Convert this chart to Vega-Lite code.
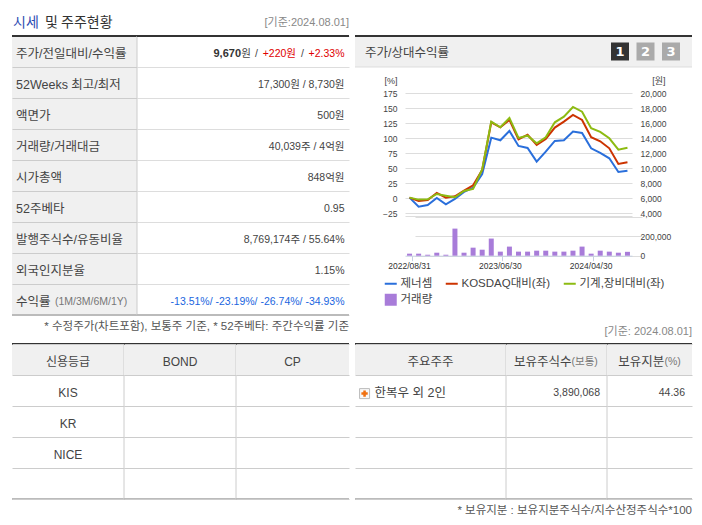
{
"$schema":"https://vega.github.io/schema/vega-lite/v6.json",
"background":"white",
"padding":{"left":11,"top":0,"right":0,"bottom":0},
"spacing":-1,
"config":{"view":{"stroke":null},"font":"Liberation Sans, Noto Sans CJK KR","text":{"font":"Liberation Sans, Noto Sans CJK KR","color":"#444","fontSize":10.5,"baseline":"middle"}},
"datasets":{
"lines":[
{"date":"2022/08/31","series":"제너셈","value":6089},{"date":"2022/09/30","series":"제너셈","value":4889},{"date":"2022/10/31","series":"제너셈","value":5111},{"date":"2022/11/30","series":"제너셈","value":6044},{"date":"2022/12/29","series":"제너셈","value":5200},{"date":"2023/01/31","series":"제너셈","value":5911},{"date":"2023/02/28","series":"제너셈","value":6844},{"date":"2023/03/31","series":"제너셈","value":7422},{"date":"2023/04/28","series":"제너셈","value":9244},{"date":"2023/05/31","series":"제너셈","value":14089},{"date":"2023/06/30","series":"제너셈","value":13733},{"date":"2023/07/31","series":"제너셈","value":14978},{"date":"2023/08/31","series":"제너셈","value":12978},{"date":"2023/09/27","series":"제너셈","value":12711},{"date":"2023/10/31","series":"제너셈","value":10889},{"date":"2023/11/30","series":"제너셈","value":12222},{"date":"2023/12/28","series":"제너셈","value":13644},{"date":"2024/01/31","series":"제너셈","value":13733},{"date":"2024/02/29","series":"제너셈","value":14889},{"date":"2024/03/29","series":"제너셈","value":14711},{"date":"2024/04/30","series":"제너셈","value":12667},{"date":"2024/05/31","series":"제너셈","value":12044},{"date":"2024/06/28","series":"제너셈","value":11333},{"date":"2024/07/31","series":"제너셈","value":9511},{"date":"2024/08/01","series":"제너셈","value":9670},
{"date":"2022/08/31","series":"KOSDAQ대비(좌)","value":1.1},{"date":"2022/09/30","series":"KOSDAQ대비(좌)","value":-4.4},{"date":"2022/10/31","series":"KOSDAQ대비(좌)","value":-2.8},{"date":"2022/11/30","series":"KOSDAQ대비(좌)","value":8.9},{"date":"2022/12/29","series":"KOSDAQ대비(좌)","value":1.1},{"date":"2023/01/31","series":"KOSDAQ대비(좌)","value":3.3},{"date":"2023/02/28","series":"KOSDAQ대비(좌)","value":12.8},{"date":"2023/03/31","series":"KOSDAQ대비(좌)","value":21.7},{"date":"2023/04/28","series":"KOSDAQ대비(좌)","value":47.2},{"date":"2023/05/31","series":"KOSDAQ대비(좌)","value":126.7},{"date":"2023/06/30","series":"KOSDAQ대비(좌)","value":118.3},{"date":"2023/07/31","series":"KOSDAQ대비(좌)","value":130.6},{"date":"2023/08/31","series":"KOSDAQ대비(좌)","value":98.3},{"date":"2023/09/27","series":"KOSDAQ대비(좌)","value":106.1},{"date":"2023/10/31","series":"KOSDAQ대비(좌)","value":88.9},{"date":"2023/11/30","series":"KOSDAQ대비(좌)","value":98.9},{"date":"2023/12/28","series":"KOSDAQ대비(좌)","value":117.8},{"date":"2024/01/31","series":"KOSDAQ대비(좌)","value":127.8},{"date":"2024/02/29","series":"KOSDAQ대비(좌)","value":138.9},{"date":"2024/03/29","series":"KOSDAQ대비(좌)","value":130.6},{"date":"2024/04/30","series":"KOSDAQ대비(좌)","value":101.7},{"date":"2024/05/31","series":"KOSDAQ대비(좌)","value":95},{"date":"2024/06/28","series":"KOSDAQ대비(좌)","value":83.3},{"date":"2024/07/31","series":"KOSDAQ대비(좌)","value":57.2},{"date":"2024/08/01","series":"KOSDAQ대비(좌)","value":60},
{"date":"2022/08/31","series":"기계,장비대비(좌)","value":1.1},{"date":"2022/09/30","series":"기계,장비대비(좌)","value":-2.2},{"date":"2022/10/31","series":"기계,장비대비(좌)","value":-1.7},{"date":"2022/11/30","series":"기계,장비대비(좌)","value":7.2},{"date":"2022/12/29","series":"기계,장비대비(좌)","value":4.4},{"date":"2023/01/31","series":"기계,장비대비(좌)","value":1.7},{"date":"2023/02/28","series":"기계,장비대비(좌)","value":12.2},{"date":"2023/03/31","series":"기계,장비대비(좌)","value":15.6},{"date":"2023/04/28","series":"기계,장비대비(좌)","value":48.3},{"date":"2023/05/31","series":"기계,장비대비(좌)","value":127.8},{"date":"2023/06/30","series":"기계,장비대비(좌)","value":118.3},{"date":"2023/07/31","series":"기계,장비대비(좌)","value":133.9},{"date":"2023/08/31","series":"기계,장비대비(좌)","value":100.6},{"date":"2023/09/27","series":"기계,장비대비(좌)","value":104.4},{"date":"2023/10/31","series":"기계,장비대비(좌)","value":91.7},{"date":"2023/11/30","series":"기계,장비대비(좌)","value":101.7},{"date":"2023/12/28","series":"기계,장비대비(좌)","value":126.7},{"date":"2024/01/31","series":"기계,장비대비(좌)","value":136.1},{"date":"2024/02/29","series":"기계,장비대비(좌)","value":152.2},{"date":"2024/03/29","series":"기계,장비대비(좌)","value":144.4},{"date":"2024/04/30","series":"기계,장비대비(좌)","value":116.7},{"date":"2024/05/31","series":"기계,장비대비(좌)","value":110.6},{"date":"2024/06/28","series":"기계,장비대비(좌)","value":100},{"date":"2024/07/31","series":"기계,장비대비(좌)","value":81.1},{"date":"2024/08/01","series":"기계,장비대비(좌)","value":84.4}
],
"volume":[
{"date":"2022/08/31","volume":21000},{"date":"2022/09/30","volume":21000},{"date":"2022/10/31","volume":10000},{"date":"2022/11/30","volume":31000},{"date":"2022/12/29","volume":10000},{"date":"2023/01/31","volume":280000},{"date":"2023/02/28","volume":31000},{"date":"2023/03/31","volume":83000},{"date":"2023/04/28","volume":62000},{"date":"2023/05/31","volume":177000},{"date":"2023/06/30","volume":42000},{"date":"2023/07/31","volume":94000},{"date":"2023/08/31","volume":42000},{"date":"2023/09/27","volume":42000},{"date":"2023/10/31","volume":52000},{"date":"2023/11/30","volume":52000},{"date":"2023/12/28","volume":42000},{"date":"2024/01/31","volume":42000},{"date":"2024/02/29","volume":52000},{"date":"2024/03/29","volume":94000},{"date":"2024/04/30","volume":21000},{"date":"2024/05/31","volume":52000},{"date":"2024/06/28","volume":42000},{"date":"2024/07/31","volume":31000},{"date":"2024/08/01","volume":40039}
],
"t1":[
{"항목":"주가/전일대비/수익률","값":""},{"항목":"52Weeks 최고/최저","값":"17,300원 / 8,730원"},{"항목":"액면가","값":"500원"},{"항목":"거래량/거래대금","값":"40,039주 / 4억원"},{"항목":"시가총액","값":"848억원"},{"항목":"52주베타","값":"0.95"},{"항목":"발행주식수/유동비율","값":"8,769,174주 / 55.64%"},{"항목":"외국인지분율","값":"1.15%"},{"항목":"수익률","값":""}
]
},
"vconcat":[
{"width":337,"height":36,"data":{"values":[{"t":"시세","u":"및 주주현황","v":"[기준:2024.08.01]"}]},"layer":[
 {"mark":{"type":"text","align":"left","dx":-167.5,"dy":5,"fontSize":14,"color":"#2d4cb3","font":"Noto Sans CJK KR"},"encoding":{"text":{"field":"t"}}},
 {"mark":{"type":"text","align":"left","dx":-135.5,"dy":5,"fontSize":14,"color":"#333","font":"Noto Sans CJK KR"},"encoding":{"text":{"field":"u"}}},
 {"mark":{"type":"text","align":"right","dx":168.5,"dy":5,"fontSize":11,"color":"#888"},"encoding":{"text":{"field":"v"}}}
]},
{"hconcat":[
 {"hconcat":[
  {"width":125,"height":279,"view":{"fill":"#f0f0f0","stroke":null},"layer":[
   {"data":{"name":"t1"},"mark":{"type":"text","align":"left","dx":-58.5,"dy":2.5,"fontSize":12.5,"color":"#444"},"encoding":{"y":{"field":"항목","type":"nominal","scale":{"type":"band","domain":["주가/전일대비/수익률","52Weeks 최고/최저","액면가","거래량/거래대금","시가총액","52주베타","발행주식수/유동비율","외국인지분율","수익률"],"paddingInner":0,"paddingOuter":0},"axis":{"grid":true,"tickBand":"extent","labels":false,"ticks":false,"domain":false,"title":null,"gridColor":"#ccc"}},"text":{"field":"항목"}}},
   {"data":{"values":[{"s":"(1M/3M/6M/1Y)","r":"수익률"}]},"mark":{"type":"text","align":"left","dx":-19.5,"dy":2.5,"fontSize":10.5,"color":"#777"},"encoding":{"y":{"field":"r","type":"nominal"},"text":{"field":"s"}}},
   {"data":{"values":[{}]},"mark":{"type":"rule","color":"#333","strokeWidth":2},"encoding":{"y":{"datum":"주가/전일대비/수익률","type":"nominal","bandPosition":0}}},
   {"data":{"values":[{}]},"mark":{"type":"rule","color":"#bbb","strokeWidth":2},"encoding":{"y":{"datum":"수익률","type":"nominal","bandPosition":1}}},
   {"data":{"values":[{}]},"mark":{"type":"rule","color":"#ccc"},"encoding":{"x":{"datum":"c","type":"nominal","bandPosition":1,"axis":null,"scale":{"type":"band","domain":["c"],"paddingInner":0,"paddingOuter":0}}}}
  ]},
  {"width":212,"height":279,"layer":[
   {"data":{"name":"t1"},"mark":{"type":"text","align":"right","dx":101.5,"dy":2.5,"color":"#444"},"encoding":{"y":{"field":"항목","type":"nominal","scale":{"type":"band","domain":["주가/전일대비/수익률","52Weeks 최고/최저","액면가","거래량/거래대금","시가총액","52주베타","발행주식수/유동비율","외국인지분율","수익률"],"paddingInner":0,"paddingOuter":0},"axis":{"grid":true,"tickBand":"extent","labels":false,"ticks":false,"domain":false,"title":null,"gridColor":"#ddd"}},"text":{"field":"값"}}},
   {"data":{"values":[{"r":"수익률","s":"-13.51%/ -23.19%/ -26.74%/ -34.93%"}]},"mark":{"type":"text","align":"right","dx":101.5,"dy":2.5,"color":"#1a66e0"},"encoding":{"y":{"field":"r","type":"nominal"},"text":{"field":"s"}}},
   {"data":{"values":[{"r":"주가/전일대비/수익률","s":"+2.33%"}]},"mark":{"type":"text","align":"right","dx":101.5,"dy":2.5,"color":"#e00000"},"encoding":{"y":{"field":"r","type":"nominal"},"text":{"field":"s"}}},
   {"data":{"values":[{"r":"주가/전일대비/수익률","s":"/"}]},"mark":{"type":"text","align":"right","dx":61,"dy":2.5},"encoding":{"y":{"field":"r","type":"nominal"},"text":{"field":"s"}}},
   {"data":{"values":[{"r":"주가/전일대비/수익률","s":"+220원"}]},"mark":{"type":"text","align":"right","dx":53,"dy":2.5,"color":"#e00000"},"encoding":{"y":{"field":"r","type":"nominal"},"text":{"field":"s"}}},
   {"data":{"values":[{"r":"주가/전일대비/수익률","s":"/"}]},"mark":{"type":"text","align":"right","dx":15,"dy":2.5},"encoding":{"y":{"field":"r","type":"nominal"},"text":{"field":"s"}}},
   {"data":{"values":[{"r":"주가/전일대비/수익률","s":"9,670"}]},"mark":{"type":"text","align":"right","dx":-2,"dy":2.5,"fontWeight":"bold","fontSize":11,"color":"#333"},"encoding":{"y":{"field":"r","type":"nominal"},"text":{"field":"s"}}},
   {"data":{"values":[{"r":"주가/전일대비/수익률","s":"원"}]},"mark":{"type":"text","align":"right","dx":8,"dy":2.5},"encoding":{"y":{"field":"r","type":"nominal"},"text":{"field":"s"}}},
   {"data":{"values":[{}]},"mark":{"type":"rule","color":"#333","strokeWidth":2},"encoding":{"y":{"datum":"주가/전일대비/수익률","type":"nominal","bandPosition":0}}},
   {"data":{"values":[{}]},"mark":{"type":"rule","color":"#bbb","strokeWidth":2},"encoding":{"y":{"datum":"수익률","type":"nominal","bandPosition":1}}}
  ]}
 ],"spacing":0,"bounds":"flush"},
 {"vconcat":[
  {"width":337,"height":31,"view":{"fill":"#f0f0f0","stroke":null},"layer":[
   {"data":{"values":[{}]},"mark":{"type":"rule","color":"#333","strokeWidth":2},"encoding":{"y":{"datum":"h","type":"nominal","bandPosition":0,"axis":null,"scale":{"type":"band","domain":["h"],"paddingInner":0,"paddingOuter":0}}}},
   {"data":{"values":[{}]},"mark":{"type":"rule","color":"#ddd"},"encoding":{"y":{"datum":"h","type":"nominal","bandPosition":1}}},
   {"data":{"values":[{"t":"주가/상대수익률"}]},"mark":{"type":"text","align":"left","dx":-158.5,"fontSize":12.5,"dy":1},"encoding":{"text":{"field":"t"}}},
   {"data":{"values":[{"b":"1"}]},"mark":{"type":"point","shape":"square","size":324,"filled":true,"opacity":1,"color":"#333"},"encoding":{"x":{"field":"b","type":"nominal","axis":null,"scale":{"type":"point","domain":["1","2","3"],"range":[265,316],"padding":0}}}},
   {"data":{"values":[{"b":"2"},{"b":"3"}]},"mark":{"type":"point","shape":"square","size":324,"filled":true,"opacity":1,"color":"#aaa"},"encoding":{"x":{"field":"b","type":"nominal"}}},
   {"data":{"values":[{"b":"1"},{"b":"2"},{"b":"3"}]},"mark":{"type":"text","fontWeight":"bold","fontSize":13,"color":"white","font":"DejaVu Sans"},"encoding":{"x":{"field":"b","type":"nominal"},"text":{"field":"b"}}}
  ]},
  {"width":337,"height":149.3,"data":{"name":"lines"},
   "encoding":{"x":{"field":"date","type":"nominal","sort":null,"axis":null,"scale":{"type":"band","range":[50,277],"paddingInner":0.45,"paddingOuter":0.225}},
    "color":{"field":"series","type":"nominal","scale":{"domain":["제너셈","기계,장비대비(좌)","KOSDAQ대비(좌)","거래량"],"range":["#2a6fdb","#8dbb12","#cc3300","#a87cd9"]},
     "legend":{"orient":"none","legendX":373,"legendY":278,"columns":3,"gridAlign":"none","title":null,"symbolType":"stroke","symbolSize":144,"symbolStrokeWidth":2,"labelFontSize":11.5,"labelOffset":4,"columnPadding":8,"rowPadding":3,"labelColor":"#444","labelFont":"Liberation Sans, Noto Sans CJK KR",
      "encode":{"symbols":{"update":{"shape":{"signal":"datum.value==='거래량'?'square':'stroke'"},"fill":{"signal":"datum.value==='거래량'?'#a87cd9':'transparent'"},"strokeWidth":{"signal":"datum.value==='거래량'?0:2"}}}}}}},
   "layer":[
    {"transform":[{"filter":"datum.series==='제너셈'"}],"mark":{"type":"line","strokeWidth":2},"encoding":{"y":{"field":"value","type":"quantitative","scale":{"domain":[3600,20000],"range":[149.3,26.3],"nice":false,"zero":false},"axis":{"orient":"right","offset":-60,"labelPadding":8,"values":[3600,4000,6000,8000,10000,12000,14000,16000,18000,20000],"labelExpr":"datum.value==3600?'':datum.label","format":",d","grid":false,"ticks":false,"domain":false,"labelFontSize":8.5,"labelColor":"#444","title":"[원]","titleAngle":0,"titleX":33,"titleY":13,"titleAlign":"right","titleBaseline":"middle","titleFontWeight":"normal","titleFontSize":9,"titleColor":"#444","labelOverlap":false}}}},
    {"transform":[{"filter":"datum.series!=='제너셈'"}],"mark":{"type":"line","strokeWidth":2},"encoding":{"y":{"field":"value","type":"quantitative","scale":{"domain":[-30,175],"range":[149.3,26.3],"nice":false,"zero":false},"axis":{"orient":"left","offset":-50,"labelPadding":8,"values":[-30,-25,0,25,50,75,100,125,150,175],"labelExpr":"datum.value==-30?'':datum.label","grid":true,"gridColor":"#ddd","ticks":false,"domain":false,"labelFontSize":8.5,"labelColor":"#444","title":"[%]","titleAngle":0,"titleX":-8,"titleY":13,"titleAlign":"right","titleBaseline":"middle","titleFontWeight":"normal","titleFontSize":9,"titleColor":"#444","labelOverlap":false}}}}
   ],
   "resolve":{"scale":{"y":"independent"},"axis":{"y":"independent"}}},
  {"width":337,"height":38.7,"data":{"name":"volume"},"mark":{"type":"bar","color":"#a87cd9"},
   "encoding":{"x":{"field":"date","type":"nominal","sort":null,"scale":{"type":"band","range":[50,277],"paddingInner":0.45,"paddingOuter":0.225},"axis":{"title":null,"values":["2022/08/31","2023/06/30","2024/04/30"],"bandPosition":1,"labelAngle":0,"labelFontSize":8.5,"labelColor":"#333","domainColor":"#c5d0e0","tickColor":"#c5d0e0","tickSize":5,"labelPadding":1,"labelOverlap":false}},
    "y":{"field":"volume","type":"quantitative","scale":{"domain":[0,400000],"nice":false},"axis":{"orient":"right","offset":-60,"labelPadding":8,"values":[0,200000,400000],"labelExpr":"datum.value==400000?'':datum.label","format":",d","grid":true,"gridColor":"#ddd","ticks":false,"domain":false,"title":null,"labelFontSize":8.5,"labelColor":"#444","labelOverlap":false}}}}
 ],"spacing":0,"bounds":"flush"}
],"spacing":4},
{"hconcat":[
 {"width":337,"height":28,"data":{"values":[{"t":"* 수정주가(차트포함), 보통주 기준, * 52주베타: 주간수익률 기준"}]},"mark":{"type":"text","align":"right","dx":168.5,"dy":-3,"fontSize":11.5,"color":"#555"},"encoding":{"text":{"field":"t"}}},
 {"width":337,"height":28,"data":{"values":[{"t":"[기준: 2024.08.01]"}]},"mark":{"type":"text","align":"right","dx":168.5,"dy":2,"fontSize":11,"color":"#888"},"encoding":{"text":{"field":"t"}}}
],"spacing":6},
{"hconcat":[
 {"hconcat":[
  {"width":112,"height":155,"layer":[
   {"data":{"values":[{"r":"신용등급"}]},"mark":{"type":"rect","fill":"#f0f0f0"},"encoding":{"y":{"field":"r","type":"nominal","axis":{"grid":true,"tickBand":"extent","labels":false,"ticks":false,"domain":false,"title":null,"gridColor":"#ccc"},"scale":{"type":"band","domain":["신용등급","KIS","KR","NICE","-"],"paddingInner":0,"paddingOuter":0}}}},
   {"data":{"values":[{"r":"신용등급"},{"r":"KIS"},{"r":"KR"},{"r":"NICE"}]},"mark":{"type":"text","dy":2.5,"fontSize":12},"encoding":{"y":{"field":"r","type":"nominal"},"text":{"field":"r"}}},
   {"data":{"values":[{}]},"mark":{"type":"rule","color":"#333","strokeWidth":2},"encoding":{"y":{"datum":"신용등급","type":"nominal","bandPosition":0}}},
   {"data":{"values":[{}]},"mark":{"type":"rule","color":"#bbb","strokeWidth":2},"encoding":{"y":{"datum":"-","type":"nominal","bandPosition":1}}},
   {"data":{"values":[{}]},"mark":{"type":"rule","color":"#ccc"},"encoding":{"x":{"datum":"c","type":"nominal","bandPosition":1,"axis":null,"scale":{"type":"band","domain":["c"],"paddingInner":0,"paddingOuter":0}}}}
  ]},
  {"width":112,"height":155,"layer":[
   {"data":{"values":[{"r":"신용등급"}]},"mark":{"type":"rect","fill":"#f0f0f0"},"encoding":{"y":{"field":"r","type":"nominal","axis":{"grid":true,"tickBand":"extent","labels":false,"ticks":false,"domain":false,"title":null,"gridColor":"#ccc"},"scale":{"type":"band","domain":["신용등급","KIS","KR","NICE","-"],"paddingInner":0,"paddingOuter":0}}}},
   {"data":{"values":[{"r":"신용등급","t":"BOND"}]},"mark":{"type":"text","dy":2.5,"fontSize":12},"encoding":{"y":{"field":"r","type":"nominal"},"text":{"field":"t"}}},
   {"data":{"values":[{}]},"mark":{"type":"rule","color":"#333","strokeWidth":2},"encoding":{"y":{"datum":"신용등급","type":"nominal","bandPosition":0}}},
   {"data":{"values":[{}]},"mark":{"type":"rule","color":"#bbb","strokeWidth":2},"encoding":{"y":{"datum":"-","type":"nominal","bandPosition":1}}},
   {"data":{"values":[{}]},"mark":{"type":"rule","color":"#ccc"},"encoding":{"x":{"datum":"c","type":"nominal","bandPosition":1,"axis":null,"scale":{"type":"band","domain":["c"],"paddingInner":0,"paddingOuter":0}}}}
  ]},
  {"width":113,"height":155,"layer":[
   {"data":{"values":[{"r":"신용등급"}]},"mark":{"type":"rect","fill":"#f0f0f0"},"encoding":{"y":{"field":"r","type":"nominal","axis":{"grid":true,"tickBand":"extent","labels":false,"ticks":false,"domain":false,"title":null,"gridColor":"#ccc"},"scale":{"type":"band","domain":["신용등급","KIS","KR","NICE","-"],"paddingInner":0,"paddingOuter":0}}}},
   {"data":{"values":[{"r":"신용등급","t":"CP"}]},"mark":{"type":"text","dy":2.5,"fontSize":12},"encoding":{"y":{"field":"r","type":"nominal"},"text":{"field":"t"}}},
   {"data":{"values":[{}]},"mark":{"type":"rule","color":"#333","strokeWidth":2},"encoding":{"y":{"datum":"신용등급","type":"nominal","bandPosition":0}}},
   {"data":{"values":[{}]},"mark":{"type":"rule","color":"#bbb","strokeWidth":2},"encoding":{"y":{"datum":"-","type":"nominal","bandPosition":1}}}
  ]}
 ],"spacing":0,"bounds":"flush"},
 {"hconcat":[
  {"width":151,"height":155,"layer":[
   {"data":{"values":[{"r":"주요주주"}]},"mark":{"type":"rect","fill":"#f0f0f0"},"encoding":{"y":{"field":"r","type":"nominal","axis":{"grid":true,"tickBand":"extent","labels":false,"ticks":false,"domain":false,"title":null,"gridColor":"#ccc"},"scale":{"type":"band","domain":["주요주주","한복우 외 2인","-","--","---"],"paddingInner":0,"paddingOuter":0}}}},
   {"data":{"values":[{"r":"주요주주"}]},"mark":{"type":"text","dy":2.5,"fontSize":12.5},"encoding":{"y":{"field":"r","type":"nominal"},"text":{"field":"r"}}},
   {"data":{"values":[{"r":"한복우 외 2인"}]},"mark":{"type":"text","align":"left","dx":-56,"dy":2.5,"fontSize":12.5},"encoding":{"y":{"field":"r","type":"nominal"},"text":{"field":"r"}}},
   {"data":{"values":[{"r":"한복우 외 2인","c":"icon"}]},"mark":{"type":"point","shape":"square","size":100,"filled":false,"opacity":1,"color":"#bbb","fill":"#f8f8f8","strokeWidth":1},"encoding":{"y":{"field":"r","type":"nominal","bandPosition":0.6},"x":{"field":"c","type":"nominal","bandPosition":0.38,"axis":null,"scale":{"type":"band","domain":["icon","a","b","c","d","e"],"paddingInner":0,"paddingOuter":0}}}},
   {"data":{"values":[{"r":"한복우 외 2인","c":"icon"}]},"mark":{"type":"point","shape":"cross","size":40,"filled":true,"opacity":1,"color":"#f07010"},"encoding":{"y":{"field":"r","type":"nominal","bandPosition":0.6},"x":{"field":"c","type":"nominal","bandPosition":0.38}}},
   {"data":{"values":[{}]},"mark":{"type":"rule","color":"#333","strokeWidth":2},"encoding":{"y":{"datum":"주요주주","type":"nominal","bandPosition":0}}},
   {"data":{"values":[{}]},"mark":{"type":"rule","color":"#bbb","strokeWidth":2},"encoding":{"y":{"datum":"---","type":"nominal","bandPosition":1}}},
   {"data":{"values":[{}]},"mark":{"type":"rule","color":"#ccc"},"encoding":{"x":{"datum":"e","type":"nominal","bandPosition":1}}}
  ]},
  {"width":101,"height":155,"layer":[
   {"data":{"values":[{"r":"주요주주"}]},"mark":{"type":"rect","fill":"#f0f0f0"},"encoding":{"y":{"field":"r","type":"nominal","axis":{"grid":true,"tickBand":"extent","labels":false,"ticks":false,"domain":false,"title":null,"gridColor":"#ccc"},"scale":{"type":"band","domain":["주요주주","한복우 외 2인","-","--","---"],"paddingInner":0,"paddingOuter":0}}}},
   {"data":{"values":[{"r":"주요주주","t":"보유주식수"}]},"mark":{"type":"text","align":"right","dx":15,"dy":2.5,"fontSize":12.5},"encoding":{"y":{"field":"r","type":"nominal"},"text":{"field":"t"}}},
   {"data":{"values":[{"r":"주요주주","t":"(보통)"}]},"mark":{"type":"text","align":"left","dx":15,"dy":2.5,"fontSize":10.5,"color":"#777"},"encoding":{"y":{"field":"r","type":"nominal"},"text":{"field":"t"}}},
   {"data":{"values":[{"r":"한복우 외 2인","t":"3,890,068"}]},"mark":{"type":"text","align":"right","dx":43.5,"dy":2.5},"encoding":{"y":{"field":"r","type":"nominal"},"text":{"field":"t"}}},
   {"data":{"values":[{}]},"mark":{"type":"rule","color":"#333","strokeWidth":2},"encoding":{"y":{"datum":"주요주주","type":"nominal","bandPosition":0}}},
   {"data":{"values":[{}]},"mark":{"type":"rule","color":"#bbb","strokeWidth":2},"encoding":{"y":{"datum":"---","type":"nominal","bandPosition":1}}},
   {"data":{"values":[{}]},"mark":{"type":"rule","color":"#ccc"},"encoding":{"x":{"datum":"c","type":"nominal","bandPosition":1,"axis":null,"scale":{"type":"band","domain":["c"],"paddingInner":0,"paddingOuter":0}}}}
  ]},
  {"width":85,"height":155,"layer":[
   {"data":{"values":[{"r":"주요주주"}]},"mark":{"type":"rect","fill":"#f0f0f0"},"encoding":{"y":{"field":"r","type":"nominal","axis":{"grid":true,"tickBand":"extent","labels":false,"ticks":false,"domain":false,"title":null,"gridColor":"#ccc"},"scale":{"type":"band","domain":["주요주주","한복우 외 2인","-","--","---"],"paddingInner":0,"paddingOuter":0}}}},
   {"data":{"values":[{"r":"주요주주","t":"보유지분"}]},"mark":{"type":"text","align":"right","dx":14.8,"dy":2.5,"fontSize":12.5},"encoding":{"y":{"field":"r","type":"nominal"},"text":{"field":"t"}}},
   {"data":{"values":[{"r":"주요주주","t":"(%)"}]},"mark":{"type":"text","align":"left","dx":15,"dy":2.5,"fontSize":10.5,"color":"#777"},"encoding":{"y":{"field":"r","type":"nominal"},"text":{"field":"t"}}},
   {"data":{"values":[{"r":"한복우 외 2인","t":"44.36"}]},"mark":{"type":"text","align":"right","dx":35.5,"dy":2.5},"encoding":{"y":{"field":"r","type":"nominal"},"text":{"field":"t"}}},
   {"data":{"values":[{}]},"mark":{"type":"rule","color":"#333","strokeWidth":2},"encoding":{"y":{"datum":"주요주주","type":"nominal","bandPosition":0}}},
   {"data":{"values":[{}]},"mark":{"type":"rule","color":"#bbb","strokeWidth":2},"encoding":{"y":{"datum":"---","type":"nominal","bandPosition":1}}}
  ]}
 ],"spacing":0,"bounds":"flush"}
],"spacing":4},
{"width":680,"height":25,"data":{"values":[{"t":"* 보유지분 : 보유지분주식수/지수산정주식수*100"}]},"mark":{"type":"text","align":"right","dx":340,"dy":-1.5,"fontSize":11.5,"color":"#555"},"encoding":{"text":{"field":"t"}}}
]}
